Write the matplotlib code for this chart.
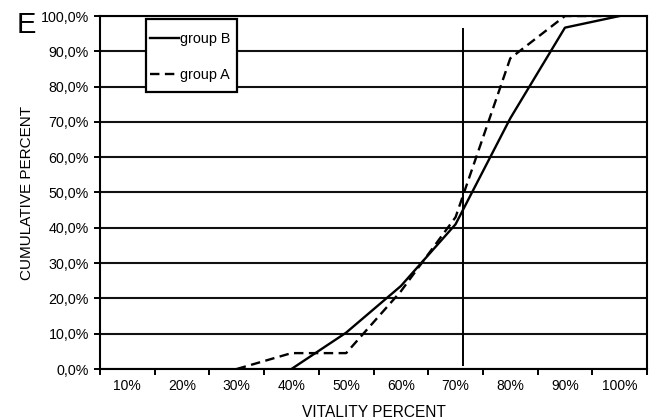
import numpy as np
import matplotlib
matplotlib.use('Agg')
import matplotlib.pyplot as plt
from matplotlib.patches import Rectangle
from matplotlib.ticker import FixedLocator, FuncFormatter

plt.rcParams['font.family'] = ['Liberation Sans', 'DejaVu Sans']

# data
vitality = [10, 20, 30, 40, 50, 60, 70, 80, 90, 100]
group_b = [np.nan, np.nan, np.nan, 0.0, 10.3, 23.5, 41.0, 71.0, 96.7, 100.0]
group_a = [np.nan, np.nan, 0.0, 4.5, 4.5, 22.0, 43.0, 88.0, 100.0, 100.0]
mean_vitality = 71.4
x_labels = [f"{v}%" for v in vitality]
y_ticks = list(range(0, 101, 10))

fig = plt.figure(figsize=(6.52, 4.19), dpi=100)
ax = fig.add_axes([100/652, 1-369/419, 547/652, 353/419])

for y in y_ticks:
    ax.axhline(y, color='#111111', lw=1.5, zorder=1)

ax.plot(vitality, group_b, color='black', lw=1.7, label='group B', zorder=3)
ax.plot(vitality, group_a, color='black', lw=1.7, dashes=[4, 2.3], label='group A', zorder=3)
ax.vlines(mean_vitality, 0.8, 96.6, color='black', lw=1.4, zorder=2)

ax.set_xlim(5, 105)
ax.set_ylim(0, 100)
ax.xaxis.set_major_locator(FixedLocator(np.arange(5, 106, 10)))
ax.xaxis.set_minor_locator(FixedLocator(vitality))
ax.xaxis.set_major_formatter(FuncFormatter(lambda v, p: ''))
ax.xaxis.set_minor_formatter(FuncFormatter(lambda v, p: x_labels[p] if p is not None and p < len(x_labels) else ''))
ax.tick_params(axis='x', which='major', length=4, width=1.4, direction='out')
ax.tick_params(axis='x', which='minor', length=0, pad=7, labelsize=10)
ax.set_yticks(y_ticks)
ax.set_yticklabels([f"{v},0%" for v in y_ticks])
ax.tick_params(axis='y', length=4, width=1.4, direction='out', pad=4, labelsize=10.3)
for s in ax.spines.values():
    s.set_linewidth(1.5)

ax.set_xlabel('VITALITY PERCENT', fontsize=11.2, labelpad=9)
ax.set_ylabel('CUMULATIVE PERCENT', fontsize=11, labelpad=5)

# legend box
ax.add_patch(Rectangle((46/547, (369-92)/353), 91/547, 73/353, transform=ax.transAxes,
                       facecolor='white', edgecolor='black', lw=1.6, zorder=4))
h, l = ax.get_legend_handles_labels()
ax.legend(h, l, loc='upper left', bbox_to_anchor=(50/547, (369-32)/353), frameon=False,
          fontsize=10.4, handlelength=2.0, handletextpad=0.1, labelspacing=1.5,
          borderpad=0, borderaxespad=0)

fig.text(17/652, 1-33/419, 'E', fontsize=21, va='baseline', ha='left')

fig.savefig('out.png', dpi=100)
